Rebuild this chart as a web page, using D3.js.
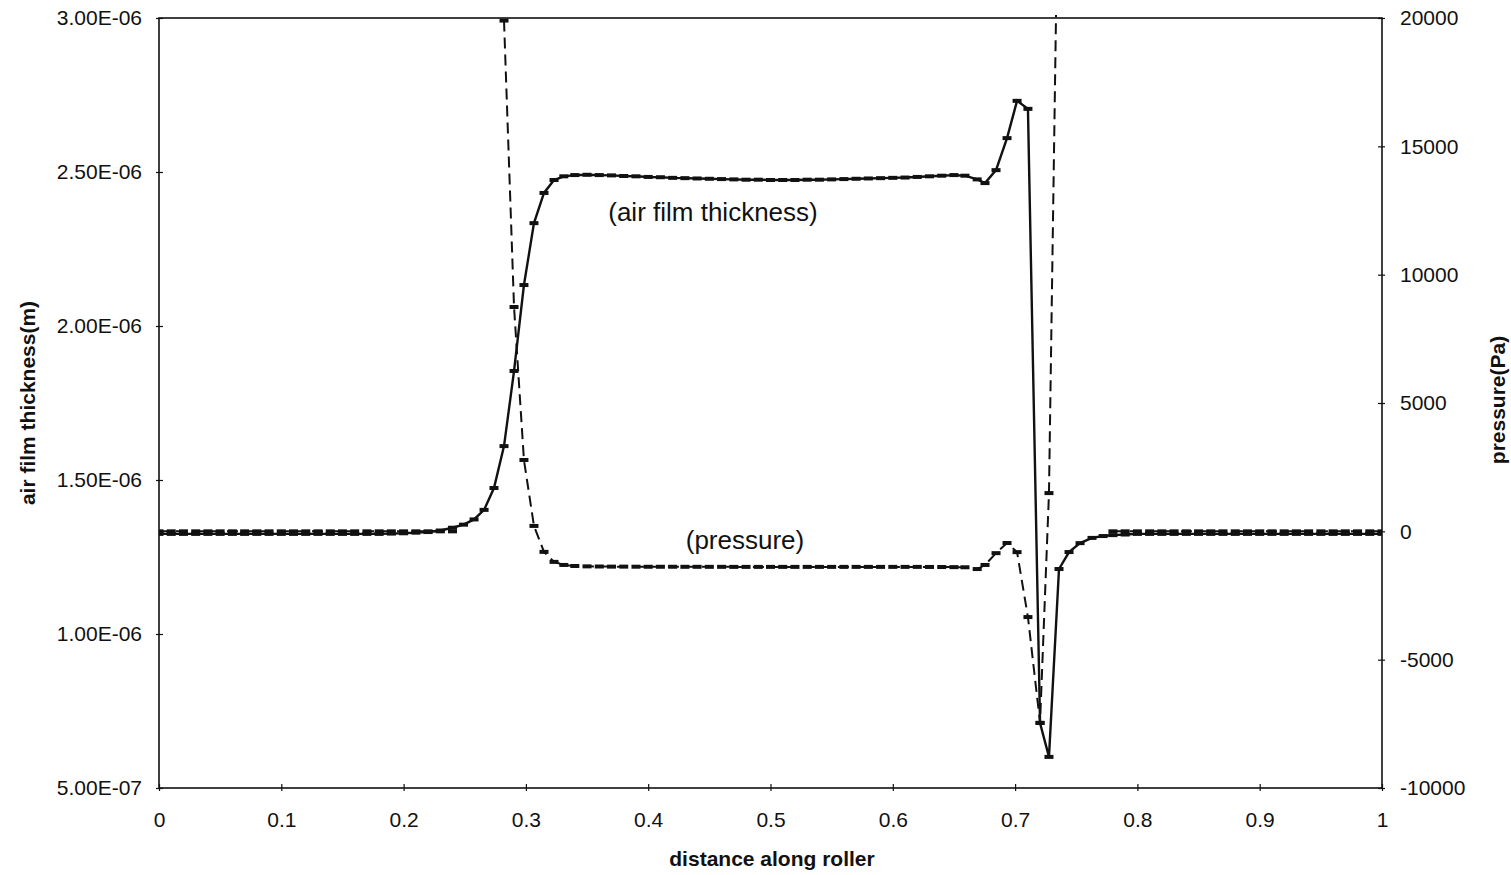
<!DOCTYPE html>
<html>
<head>
<meta charset="utf-8">
<script src="https://cdn.jsdelivr.net/npm/d3@7"></script>
<style>
  body { margin: 0; background: #fff; }
  text { font-family: "Liberation Sans", Arial, sans-serif; fill: #111; }
</style>
</head>
<body>
<svg id="chart" width="1511" height="875"></svg>
<script>
// distance along roller (shared by both series)
const distance = [
  0, 0.01, 0.02, 0.03, 0.04, 0.05, 0.06, 0.07, 0.08, 0.09, 0.1, 0.11, 0.12, 0.13, 0.14,
  0.15, 0.16, 0.17, 0.18, 0.19, 0.2, 0.21, 0.22, 0.23, 0.24,
  0.249, 0.2576, 0.2658, 0.2739, 0.2821, 0.2903, 0.2984, 0.3066, 0.3148, 0.323, 0.331,
  0.34, 0.35, 0.36, 0.37, 0.38, 0.39, 0.4, 0.41, 0.42, 0.43, 0.44, 0.45, 0.46, 0.47,
  0.48, 0.49, 0.5, 0.51, 0.52, 0.53, 0.54, 0.55, 0.56, 0.57, 0.58, 0.59, 0.6, 0.61,
  0.62, 0.63, 0.64, 0.65,
  0.659, 0.669, 0.6754, 0.6844, 0.6934, 0.7016, 0.7105, 0.7204, 0.7277, 0.7359, 0.7441,
  0.7531, 0.7629, 0.772, 0.78,
  0.79, 0.8, 0.81, 0.82, 0.83, 0.84, 0.85, 0.86, 0.87, 0.88, 0.89, 0.9, 0.91, 0.92,
  0.93, 0.94, 0.95, 0.96, 0.97, 0.98, 0.99, 1
];

// air film thickness (m)
const thickness = [
  1.325e-6, 1.325e-6, 1.325e-6, 1.325e-6, 1.325e-6, 1.325e-6, 1.325e-6, 1.325e-6, 1.325e-6, 1.325e-6,
  1.325e-6, 1.325e-6, 1.325e-6, 1.325e-6, 1.325e-6, 1.325e-6, 1.325e-6, 1.325e-6, 1.325e-6, 1.326e-6,
  1.327e-6, 1.329e-6, 1.331e-6, 1.336e-6, 1.345e-6,
  1.355e-6, 1.372e-6, 1.403e-6, 1.474e-6, 1.610e-6, 1.854e-6, 2.133e-6, 2.334e-6, 2.432e-6, 2.474e-6, 2.486e-6,
  2.490e-6, 2.491e-6, 2.490e-6, 2.489e-6, 2.487e-6, 2.486e-6, 2.484e-6, 2.483e-6, 2.481e-6, 2.480e-6,
  2.479e-6, 2.478e-6, 2.477e-6, 2.476e-6, 2.475e-6, 2.475e-6, 2.474e-6, 2.474e-6, 2.474e-6, 2.475e-6,
  2.475e-6, 2.476e-6, 2.477e-6, 2.478e-6, 2.479e-6, 2.480e-6, 2.481e-6, 2.482e-6, 2.484e-6, 2.486e-6,
  2.488e-6, 2.490e-6,
  2.488e-6, 2.476e-6, 2.464e-6, 2.506e-6, 2.610e-6, 2.731e-6, 2.705e-6, 0.711e-6, 0.601e-6, 1.211e-6,
  1.266e-6, 1.295e-6, 1.312e-6, 1.318e-6, 1.321e-6,
  1.323e-6, 1.325e-6, 1.325e-6, 1.325e-6, 1.325e-6, 1.325e-6, 1.325e-6, 1.325e-6, 1.325e-6, 1.325e-6,
  1.325e-6, 1.325e-6, 1.325e-6, 1.325e-6, 1.325e-6, 1.325e-6, 1.325e-6, 1.325e-6, 1.325e-6, 1.325e-6,
  1.325e-6, 1.325e-6
];

// pressure (Pa), null where the series has no point
const pressure = [
  0, 0, 0, 0, 0, 0, 0, 0, 0, 0, 0, 0, 0, 0, 0, 0, 0, 0, 0, 0, 0, 0, 0, 0, 0,
  null, null, null, null, 19900, 8740, 2780, 210, -800, -1190, -1310,
  -1350, -1365, -1370, -1375, -1375, -1378, -1380, -1380, -1380, -1382,
  -1382, -1383, -1383, -1385, -1385, -1385, -1385, -1385, -1385, -1385,
  -1385, -1385, -1385, -1385, -1385, -1385, -1385, -1385, -1385, -1388,
  -1390, -1395,
  -1400, -1470, -1310, -850, -455, -810, -3340, -7460, 1490, 28000,
  null, null, null, null, 0,
  0, 0, 0, 0, 0, 0, 0, 0, 0, 0, 0, 0, 0, 0, 0, 0, 0, 0, 0, 0, 0, 0
];

const leftTicks = [5e-7, 1e-6, 1.5e-6, 2e-6, 2.5e-6, 3e-6];
const rightTicks = [-10000, -5000, 0, 5000, 10000, 15000, 20000];
const xTicks = [0, 0.1, 0.2, 0.3, 0.4, 0.5, 0.6, 0.7, 0.8, 0.9, 1];

const svg = d3.select("#chart");
const pl = 159, pr = 1382, pt = 18, pb = 788;

const x = d3.scaleLinear().domain([0, 1]).range([pl, pr]);
const yT = d3.scaleLinear().domain([5e-7, 3e-6]).range([pb, pt]);
const yP = d3.scaleLinear().domain([-10000, 20000]).range([pb, pt]);

const rows = distance.map((d, i) => ({ d: d, t: thickness[i], p: pressure[i] }));

svg.append("defs").append("clipPath").attr("id", "plot")
  .append("rect").attr("x", pl).attr("y", pt - 3)
  .attr("width", pr - pl).attr("height", pb - pt + 3);

// frame
svg.append("rect")
  .attr("x", pl).attr("y", pt)
  .attr("width", pr - pl).attr("height", pb - pt)
  .attr("fill", "none").attr("stroke", "#111").attr("stroke-width", 1.6);

// axes
const fmtE = v => {
  const s = v.toExponential(2).toUpperCase();
  const [m, e] = s.split("E");
  const n = parseInt(e, 10);
  return m + "E" + (n < 0 ? "-" : "+") + String(Math.abs(n)).padStart(2, "0");
};

const gx = svg.append("g").attr("transform", `translate(0,${pb})`)
  .call(d3.axisBottom(x).tickValues(xTicks).tickSize(3).tickPadding(21)
    .tickFormat(d => String(d)));
const gl = svg.append("g").attr("transform", `translate(${pl},0)`)
  .call(d3.axisLeft(yT).tickValues(leftTicks).tickSize(3).tickPadding(14).tickFormat(fmtE));
const gr = svg.append("g").attr("transform", `translate(${pr},0)`)
  .call(d3.axisRight(yP).tickValues(rightTicks).tickSize(3).tickPadding(15)
    .tickFormat(d => String(d)));

[gx, gl, gr].forEach(g => {
  g.select(".domain").remove();
  g.selectAll(".tick line").attr("stroke", "#111").attr("stroke-width", 1.2);
  g.selectAll(".tick text").style("font-size", "21px").attr("fill", "#111");
});
gx.selectAll(".tick line").attr("y1", -4);
gl.selectAll(".tick line").attr("x1", 4);
gr.selectAll(".tick line").attr("x1", -4);

// axis titles
svg.append("text").attr("x", 772).attr("y", 866)
  .attr("text-anchor", "middle").style("font-size", "21px").style("font-weight", "bold")
  .text("distance along roller");
svg.append("text").attr("transform", "translate(35,403) rotate(-90)")
  .attr("text-anchor", "middle").style("font-size", "21px").style("font-weight", "bold")
  .text("air film thickness(m)");
svg.append("text").attr("transform", "translate(1505,400) rotate(-90)")
  .attr("text-anchor", "middle").style("font-size", "21px").style("font-weight", "bold")
  .text("pressure(Pa)");

const plot = svg.append("g").attr("clip-path", "url(#plot)");

// pressure (dashed)
const pLine = d3.line().defined(r => r.p !== null).x(r => x(r.d)).y(r => yP(r.p));
plot.append("path").datum(rows)
  .attr("d", pLine).attr("fill", "none")
  .attr("stroke", "#111").attr("stroke-width", 2)
  .attr("stroke-dasharray", "11,6");
plot.selectAll(".pm").data(rows.filter(r => r.p !== null)).enter()
  .append("rect").attr("class", "pm")
  .attr("x", r => x(r.d) - 4.5).attr("y", r => yP(r.p) - 2)
  .attr("width", 9).attr("height", 4).attr("fill", "#111");

// thickness (solid)
const tLine = d3.line().x(r => x(r.d)).y(r => yT(r.t));
plot.append("path").datum(rows)
  .attr("d", tLine).attr("fill", "none")
  .attr("stroke", "#111").attr("stroke-width", 2.4);
plot.selectAll(".tm").data(rows).enter()
  .append("rect").attr("class", "tm")
  .attr("x", r => x(r.d) - 4.5).attr("y", r => yT(r.t) - 2)
  .attr("width", 9).attr("height", 4).attr("fill", "#111");

// curve labels
svg.append("text").attr("x", 713).attr("y", 221)
  .attr("text-anchor", "middle").style("font-size", "26px")
  .text("(air film thickness)");
svg.append("text").attr("x", 745).attr("y", 549)
  .attr("text-anchor", "middle").style("font-size", "26px")
  .text("(pressure)");
</script>
</body>
</html>
